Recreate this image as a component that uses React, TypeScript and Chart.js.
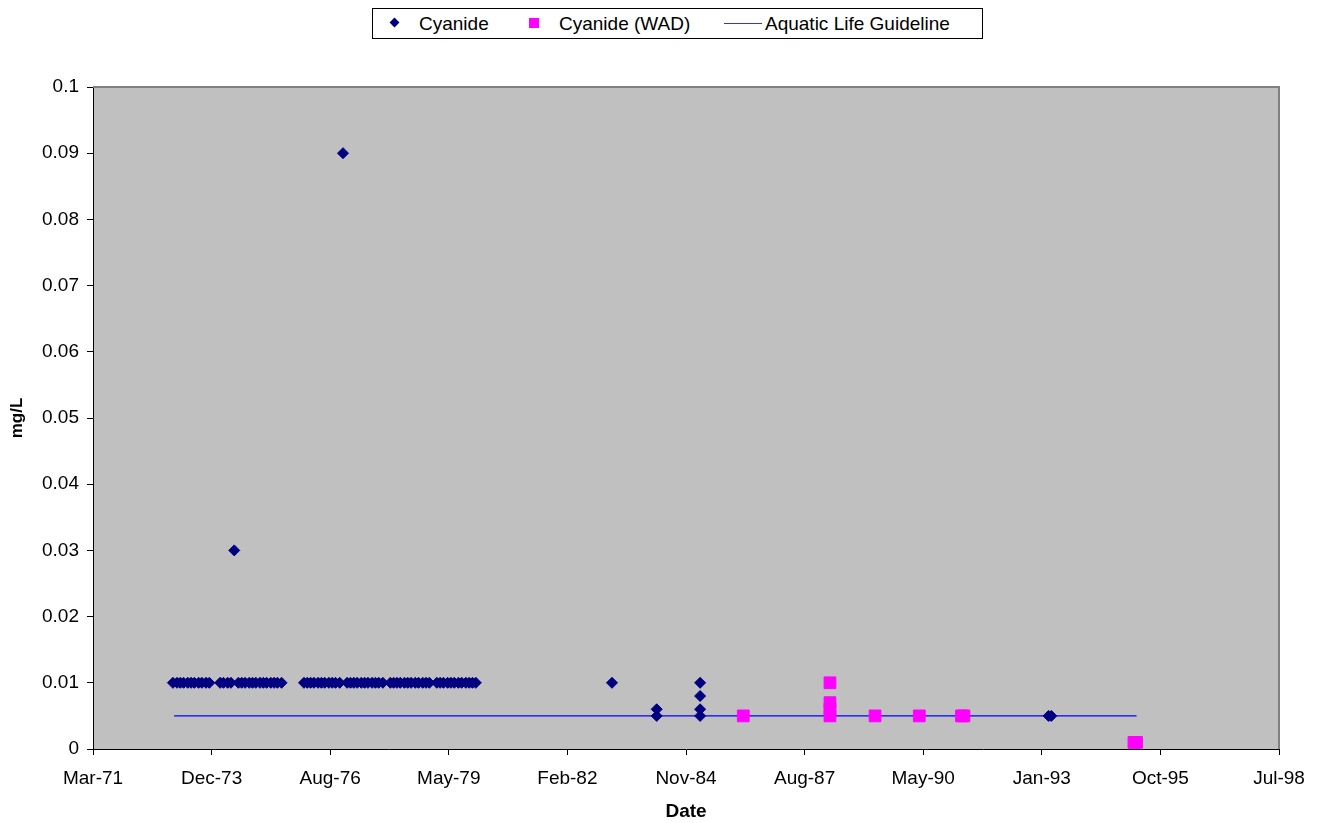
import React, { useEffect, useRef } from "react";
import { Chart, registerables } from "chart.js";

Chart.register(...registerables);

// ---------- data ----------
const cyanideDates = [
  "1973-01-10", "1973-02-14", "1973-03-13", "1973-04-10", "1973-05-15", "1973-06-12",
  "1973-07-10", "1973-08-14", "1973-09-11", "1973-10-16", "1973-11-13",
  "1974-02-12", "1974-03-12", "1974-04-16", "1974-05-14", "1974-06-11", "1974-07-16",
  "1974-08-13", "1974-09-10", "1974-10-15", "1974-11-12", "1974-12-10",
  "1975-01-14", "1975-02-11", "1975-03-11", "1975-04-15", "1975-05-13", "1975-06-10", "1975-07-15",
  "1976-01-20", "1976-02-17", "1976-03-16", "1976-04-13", "1976-05-18", "1976-06-15",
  "1976-07-13", "1976-08-17", "1976-09-14", "1976-10-12", "1976-11-16", "1976-12-14",
  "1977-01-18", "1977-02-15", "1977-03-15", "1977-04-12", "1977-05-17", "1977-06-14",
  "1977-07-12", "1977-08-16", "1977-09-13", "1977-10-11", "1977-11-15",
  "1978-01-17", "1978-02-14", "1978-03-14", "1978-04-11", "1978-05-16", "1978-06-13",
  "1978-07-11", "1978-08-15", "1978-09-12", "1978-10-17", "1978-11-14", "1978-12-12",
  "1979-02-13", "1979-03-13", "1979-04-10", "1979-05-15", "1979-06-12", "1979-07-10",
  "1979-08-14", "1979-09-11", "1979-10-16", "1979-11-13", "1979-12-11", "1980-01-08",
  "1983-03-01",
  "1984-03-12", "1984-03-12",
  "1985-03-13", "1985-03-13", "1985-03-13", "1985-03-13",
  "1993-03-29", "1993-04-21",
];
const cyanideValues = [
  0.01, 0.01, 0.01, 0.01, 0.01, 0.01,
  0.01, 0.01, 0.01, 0.01, 0.01,
  0.01, 0.01, 0.01, 0.01, 0.03, 0.01,
  0.01, 0.01, 0.01, 0.01, 0.01,
  0.01, 0.01, 0.01, 0.01, 0.01, 0.01, 0.01,
  0.01, 0.01, 0.01, 0.01, 0.01, 0.01,
  0.01, 0.01, 0.01, 0.01, 0.01, 0.09,
  0.01, 0.01, 0.01, 0.01, 0.01, 0.01,
  0.01, 0.01, 0.01, 0.01, 0.01,
  0.01, 0.01, 0.01, 0.01, 0.01, 0.01,
  0.01, 0.01, 0.01, 0.01, 0.01, 0.01,
  0.01, 0.01, 0.01, 0.01, 0.01, 0.01,
  0.01, 0.01, 0.01, 0.01, 0.01, 0.01,
  0.01,
  0.006, 0.005,
  0.01, 0.008, 0.006, 0.005,
  0.005, 0.005,
];

const wadDates = [
  "1986-03-12",
  "1988-03-12", "1988-03-12", "1988-03-12", "1988-03-12",
  "1989-03-27", "1990-04-04", "1991-03-26", "1991-04-16",
  "1995-03-19", "1995-04-10",
];
const wadValues = [
  0.005,
  0.01, 0.007, 0.006, 0.005,
  0.005, 0.005, 0.005, 0.005,
  0.001, 0.001,
];

const guidelineDates = ["1973-01-20", "1995-04-10"];
const guidelineValues = [0.005, 0.005];

// x axis: Excel date serials, one tick every 1000 days
const xTickSerials = [26000, 27000, 28000, 29000, 30000, 31000, 32000, 33000, 34000, 35000, 36000];
const xTickLabels = ["Mar-71", "Dec-73", "Aug-76", "May-79", "Feb-82", "Nov-84", "Aug-87", "May-90", "Jan-93", "Oct-95", "Jul-98"];
const yMin = 0;
const yMax = 0.1;
const yStep = 0.01;

const seriesNames = ["Cyanide", "Cyanide (WAD)", "Aquatic Life Guideline"];

// ---------- helpers ----------
const toSerial = (s: string) => {
  const [y, m, d] = s.split("-").map(Number);
  return Date.UTC(y, m - 1, d) / 86400000 + 25569;
};
const pts = (dates: string[], vals: number[]) => dates.map((d, i) => ({ x: toSerial(d), y: vals[i] }));

const FONT = "'Liberation Sans', Arial, Helvetica, sans-serif";
const NAVY = "#000080";
const MAGENTA = "#FF00FF";
const BLUE = "#0000FF";

const plotBg = {
  id: "plotBg",
  beforeDraw(chart: any) {
    const { ctx, chartArea: a } = chart;
    ctx.save();
    ctx.fillStyle = "#C0C0C0";
    ctx.fillRect(a.left, a.top, a.right - a.left, a.bottom - a.top);
    ctx.restore();
  },
  afterDraw(chart: any) {
    const { ctx, chartArea: a } = chart;
    ctx.save();
    ctx.strokeStyle = "#808080";
    ctx.lineWidth = 2;
    ctx.beginPath();
    ctx.moveTo(a.left, a.top);
    ctx.lineTo(a.right, a.top);
    ctx.lineTo(a.right, a.bottom);
    ctx.stroke();
    ctx.restore();
  },
};

export default function App() {
  const ref = useRef<HTMLCanvasElement | null>(null);

  useEffect(() => {
    if (!ref.current) return;
    Chart.defaults.font.family = FONT;
    Chart.defaults.color = "#000";
    const chart = new Chart(ref.current, {
      type: "scatter",
      data: {
        datasets: [
          {
            label: seriesNames[0],
            data: pts(cyanideDates, cyanideValues),
            pointStyle: "rectRot",
            pointRadius: 5.5,
            pointHoverRadius: 5.5,
            backgroundColor: NAVY,
            borderColor: NAVY,
            borderWidth: 1,
            showLine: false,
          },
          {
            label: seriesNames[1],
            data: pts(wadDates, wadValues),
            pointStyle: "rect",
            pointRadius: 8.3,
            pointHoverRadius: 8.3,
            backgroundColor: MAGENTA,
            borderColor: MAGENTA,
            borderWidth: 1,
            showLine: false,
          },
          {
            label: seriesNames[2],
            data: pts(guidelineDates, guidelineValues),
            showLine: true,
            borderColor: BLUE,
            borderWidth: 1.3,
            pointRadius: 0,
            pointHoverRadius: 0,
            fill: false,
          } as any,
        ],
      },
      options: {
        animation: false,
        responsive: false,
        maintainAspectRatio: false,
        events: [],
        layout: { padding: { top: 87, right: 42, left: 0, bottom: 0 } },
        plugins: {
          legend: { display: false },
          tooltip: { enabled: false },
          title: { display: false },
        },
        scales: {
          x: {
            type: "linear",
            min: xTickSerials[0],
            max: xTickSerials[xTickSerials.length - 1],
            afterBuildTicks: (scale: any) => {
              scale.ticks = xTickSerials.map((v) => ({ value: v }));
            },
            afterFit: (scale: any) => {
              scale.height = 74;
            },
            ticks: {
              autoSkip: false,
              maxRotation: 0,
              minRotation: 0,
              padding: 12,
              font: { size: 19 },
              color: "#000",
              callback: (v: any) => {
                const i = xTickSerials.indexOf(Number(v));
                return i >= 0 ? xTickLabels[i] : "";
              },
            },
            grid: {
              drawOnChartArea: false,
              drawTicks: true,
              tickLength: 6,
              tickColor: "#000",
              color: "#000",
            },
            border: { display: true, color: "#000", width: 1 },
            title: {
              display: true,
              text: "Date",
              font: { size: 19, weight: "bold" },
              color: "#000",
              padding: { top: 0, bottom: 0 },
            },
          },
          y: {
            type: "linear",
            min: yMin,
            max: yMax,
            afterFit: (scale: any) => {
              scale.width = 93;
            },
            ticks: {
              stepSize: yStep,
              padding: 8,
              font: { size: 19 },
              color: "#000",
              callback: (v: any) => String(Math.round(Number(v) * 100) / 100),
            },
            grid: {
              drawOnChartArea: false,
              drawTicks: true,
              tickLength: 6,
              tickColor: "#000",
              color: "#000",
            },
            border: { display: true, color: "#000", width: 1 },
            title: {
              display: true,
              text: "mg/L",
              font: { size: 17, weight: "bold" },
              color: "#000",
              padding: { top: 7, bottom: 0 },
            },
          },
        },
      },
      plugins: [plotBg],
    } as any);
    return () => chart.destroy();
  }, []);

  const legendText: React.CSSProperties = {
    position: "absolute",
    top: 8,
    height: 31,
    lineHeight: "31px",
    fontFamily: FONT,
    fontSize: 19,
    color: "#000",
    whiteSpace: "nowrap",
  };

  return (
    <div style={{ position: "absolute", left: 0, top: 0, width: 1321, height: 823, background: "#fff" }}>
      <canvas ref={ref} width={1321} height={823} style={{ position: "absolute", left: 0, top: 0, width: 1321, height: 823 }} />
      <div
        style={{
          position: "absolute",
          left: 372,
          top: 8,
          width: 611,
          height: 31,
          border: "1px solid #000",
          boxSizing: "border-box",
          background: "#fff",
        }}
      />
      <div
        style={{
          position: "absolute",
          left: 391,
          top: 19,
          width: 7,
          height: 7,
          background: NAVY,
          transform: "rotate(45deg)",
        }}
      />
      <div style={{ ...legendText, left: 419 }}>{seriesNames[0]}</div>
      <div style={{ position: "absolute", left: 529, top: 18, width: 10, height: 10, background: MAGENTA }} />
      <div style={{ ...legendText, left: 559 }}>{seriesNames[1]}</div>
      <div style={{ position: "absolute", left: 724, top: 23, width: 38, height: 1, background: "#3030FF" }} />
      <div style={{ ...legendText, left: 765 }}>{seriesNames[2]}</div>
    </div>
  );
}
